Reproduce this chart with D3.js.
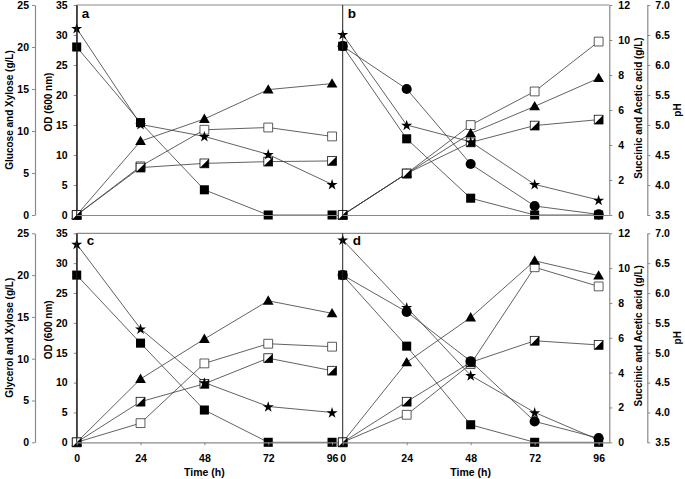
<!DOCTYPE html>
<html><head><meta charset="utf-8">
<script src="https://cdn.jsdelivr.net/npm/d3@7"></script>
<style>
body{margin:0;background:#fff;}
text{font-family:"Liberation Sans",Arial,sans-serif;font-weight:bold;fill:#000;}
</style></head>
<body><svg id="chart" width="685" height="479"></svg>
<script>
const time = [0, 24, 48, 72, 96];
const concTicks = [0, 5, 10, 15, 20, 25];
const odTicks = [0, 5, 10, 15, 20, 25, 30, 35];
const acidTicks = [0, 2, 4, 6, 8, 10, 12];
const phTicks = [3.5, 4.0, 4.5, 5.0, 5.5, 6.0, 6.5, 7.0];
const panelLabels = ["a", "b", "c", "d"];
const leftTitles = ["Glucose and Xylose (g/L)", "Glycerol and Xylose (g/L)"];

// panel a
const a_glucose = [20.0, 11.0, 3.0, 0, 0];
const a_pH = [6.61, 5.01, 4.81, 4.51, 4.01];
const a_OD = [0, 12.3, 16.0, 20.9, 21.9];
const a_succinic = [0, 2.78, 4.87, 5.0, 4.49];
const a_acetic = [0, 2.71, 2.95, 3.05, 3.09];
// panel b
const b_glucose = [20.1, 9.07, 2.0, 0, 0];
const b_xylose = [20.1, 15.0, 6.07, 1.07, 0.07];
const b_pH = [6.51, 5.0, 4.72, 4.01, 3.75];
const b_OD = [0, 6.9, 13.6, 18.1, 22.8];
const b_succinic = [0, 2.37, 5.14, 7.06, 9.91];
const b_acetic = [0, 2.37, 4.15, 5.11, 5.45];
// panel c
const c_glycerol = [20.0, 11.86, 3.86, 0, 0];
const c_pH = [6.82, 5.40, 4.50, 4.10, 4.00];
const c_OD = [0, 10.6, 17.3, 23.7, 21.6];
const c_succinic = [0, 1.10, 4.53, 5.66, 5.49];
const c_acetic = [0, 2.33, 3.36, 4.83, 4.11];
// panel d
const d_glycerol = [20.0, 11.5, 2.1, 0, 0];
const d_xylose = [20.0, 15.6, 9.7, 2.5, 0.5];
const d_pH = [6.89, 5.76, 4.62, 4.00, 3.54];
const d_OD = [0, 13.4, 20.9, 30.4, 27.9];
const d_succinic = [0, 1.58, 4.49, 10.05, 8.95];
const d_acetic = [0, 2.33, 4.59, 5.83, 5.59];

const panels = [
  {label:"a", row:0, col:0, series:[
    {v:a_succinic, axis:"acid", sym:"open"},
    {v:a_OD, axis:"od", sym:"tri"},
    {v:a_acetic, axis:"acid", sym:"half"},
    {v:a_glucose, axis:"conc", sym:"sq"},
    {v:a_pH, axis:"ph", sym:"star"}]},
  {label:"b", row:0, col:1, series:[
    {v:b_succinic, axis:"acid", sym:"open"},
    {v:b_OD, axis:"od", sym:"tri"},
    {v:b_acetic, axis:"acid", sym:"half"},
    {v:b_glucose, axis:"conc", sym:"sq"},
    {v:b_xylose, axis:"conc", sym:"circ"},
    {v:b_pH, axis:"ph", sym:"star"}]},
  {label:"c", row:1, col:0, series:[
    {v:c_succinic, axis:"acid", sym:"open"},
    {v:c_OD, axis:"od", sym:"tri"},
    {v:c_acetic, axis:"acid", sym:"half"},
    {v:c_glycerol, axis:"conc", sym:"sq"},
    {v:c_pH, axis:"ph", sym:"star"}]},
  {label:"d", row:1, col:1, series:[
    {v:d_succinic, axis:"acid", sym:"open"},
    {v:d_OD, axis:"od", sym:"tri"},
    {v:d_acetic, axis:"acid", sym:"half"},
    {v:d_glycerol, axis:"conc", sym:"sq"},
    {v:d_xylose, axis:"conc", sym:"circ"},
    {v:d_pH, axis:"ph", sym:"star"}]}
];

const svg = d3.select("#chart");
const rows = [{y0:5, y1:215}, {y0:233.3, y1:442.3}];
const cols = [{x0:76.7, x1:342.7}, {x0:342.7, x1:609.3}];
const gray = "#8a8a8a";

rows.forEach((r, ri) => {
  const yConc = d3.scaleLinear().domain([0,25]).range([r.y1, r.y0]);
  const yOD = d3.scaleLinear().domain([0,35]).range([r.y1, r.y0]);
  const yAcid = d3.scaleLinear().domain([0,12]).range([r.y1, r.y0]);
  const yPH = d3.scaleLinear().domain([3.5,7]).range([r.y1, r.y0]);
  r.scales = {conc:yConc, od:yOD, acid:yAcid, ph:yPH};

  svg.append("line").attr("x1",cols[0].x0).attr("x2",cols[1].x1).attr("y1",r.y0).attr("y2",r.y0)
    .attr("stroke",gray).attr("stroke-width",1.2);

  const gC = svg.append("g").attr("transform",`translate(35,0)`)
    .call(d3.axisLeft(yConc).tickValues(concTicks).tickSize(3).tickSizeOuter(0).tickPadding(3));
  const gO = svg.append("g").attr("transform",`translate(${cols[0].x0},0)`)
    .call(d3.axisLeft(yOD).tickValues(odTicks).tickSize(3).tickSizeOuter(0).tickPadding(6));
  const gA = svg.append("g").attr("transform",`translate(${cols[1].x1},0)`)
    .call(d3.axisRight(yAcid).tickValues(acidTicks).tickSize(3).tickSizeOuter(0).tickPadding(6));
  const gP = svg.append("g").attr("transform",`translate(647.3,0)`)
    .call(d3.axisRight(yPH).tickValues(phTicks).tickFormat(d3.format(".1f")).tickSize(3).tickSizeOuter(0).tickPadding(5));
  [gC,gO,gA,gP].forEach(g => {
    g.selectAll("text").attr("font-size",10.5).style("font-family","'Liberation Sans',Arial,sans-serif").style("font-weight","bold");
    g.selectAll(".tick line").attr("stroke",gray);
    g.select(".domain").attr("stroke",gray).attr("stroke-width",1.2);
  });
  gO.select(".domain").attr("stroke","#222").attr("stroke-width",1);

  const cy = (r.y0 + r.y1)/2;
  svg.append("text").attr("transform",`translate(13,${cy}) rotate(-90)`).attr("text-anchor","middle")
    .attr("font-size",10).text(leftTitles[ri]);
  svg.append("text").attr("transform",`translate(52,${cy - 8}) rotate(-90)`).attr("text-anchor","middle")
    .attr("font-size",10).text("OD (600 nm)");
  svg.append("text").attr("transform",`translate(642,${cy - 2}) rotate(-90)`).attr("text-anchor","middle")
    .attr("font-size",10).text("Succinic and Acetic acid (g/L)");
  svg.append("text").attr("transform",`translate(681,${cy}) rotate(-90)`).attr("text-anchor","middle")
    .attr("font-size",10).text("pH");
});

const lineColor = "#3a3a3a";
function drawMarker(g, sym, x, y) {
  if (sym === "sq") {
    g.append("path").attr("d", d3.symbol(d3.symbolSquare, 82)()).attr("transform",`translate(${x},${y})`).attr("fill","#000");
  } else if (sym === "open") {
    g.append("path").attr("d", d3.symbol(d3.symbolSquare, 78)()).attr("transform",`translate(${x},${y})`)
      .attr("fill","#fff").attr("stroke","#333").attr("stroke-width",0.8);
  } else if (sym === "half") {
    const h = 4.4;
    g.append("rect").attr("x",x-h).attr("y",y-h).attr("width",2*h).attr("height",2*h)
      .attr("fill","#fff").attr("stroke","#111").attr("stroke-width",0.8);
    g.append("path").attr("d",`M${x-h},${y+h}L${x+h},${y-h}L${x+h},${y+h}Z`).attr("fill","#000");
  } else if (sym === "tri") {
    g.append("path").attr("d", d3.symbol(d3.symbolTriangle, 50)()).attr("transform",`translate(${x},${y+0.8})`).attr("fill","#000");
  } else if (sym === "circ") {
    g.append("path").attr("d", d3.symbol(d3.symbolCircle, 80)()).attr("transform",`translate(${x},${y})`).attr("fill","#000");
  } else if (sym === "star") {
    g.append("path").attr("d", d3.symbol(d3.symbolStar, 38)()).attr("transform",`translate(${x},${y+0.5})`).attr("fill","#000");
  }
}

panels.forEach(p => {
  const r = rows[p.row], c = cols[p.col];
  const x = d3.scaleLinear().domain([0,100]).range([c.x0, c.x1]);
  const g = svg.append("g");
  const gx = svg.append("g").attr("transform",`translate(0,${r.y1})`)
    .call(d3.axisBottom(x).tickValues(time).tickSize(p.row===1?3:0).tickSizeOuter(0).tickPadding(9)
      .tickFormat(p.row===1 ? d3.format("d") : () => ""));
  gx.select(".domain").attr("stroke",gray).attr("stroke-width",1.2);
  gx.selectAll(".tick line").attr("stroke",gray);
  gx.selectAll("text").attr("font-size",10.5).style("font-family","'Liberation Sans',Arial,sans-serif").style("font-weight","bold");
  if (p.row === 1) {
    svg.append("text").attr("x",x(48)).attr("y",476).attr("text-anchor","middle").attr("font-size",10.5).text("Time (h)");
  }
  svg.append("line").attr("x1",c.x0).attr("x2",c.x0).attr("y1",r.y0).attr("y2",r.y1).attr("stroke","#222").attr("stroke-width",1);

  p.series.forEach(s => {
    const y = r.scales[s.axis];
    const line = d3.line().x((d,i)=>x(time[i])).y(d=>y(d));
    g.append("path").datum(s.v).attr("d",line).attr("fill","none").attr("stroke",lineColor).attr("stroke-width",0.8);
  });
  p.series.forEach(s => {
    const y = r.scales[s.axis];
    s.v.forEach((d,i) => drawMarker(g, s.sym, x(time[i]), y(d)));
  });
  svg.append("text").attr("x", c.x0 + (p.row===0 ? 5 : 10)).attr("y", r.y0 + (p.row===0 ? 12.5 : 12))
    .attr("font-size",13.5).text(p.label);
});
</script></body></html>
